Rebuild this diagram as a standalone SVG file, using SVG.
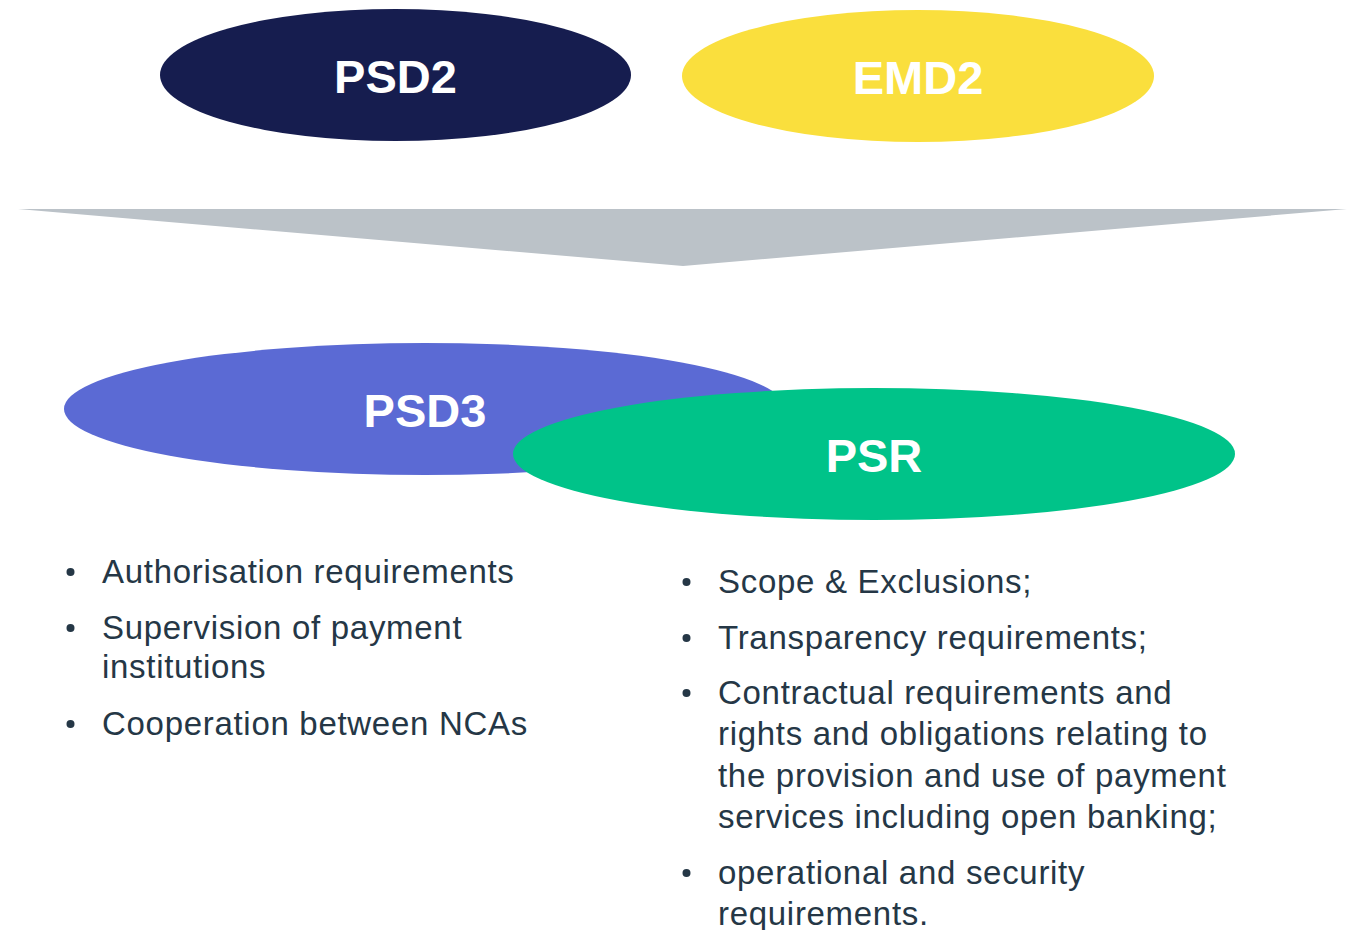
<svg xmlns="http://www.w3.org/2000/svg" width="1353" height="930" viewBox="0 0 1353 930">
  <style>
    .title { font-family: "Liberation Sans", Arial, sans-serif; font-weight: bold; font-size: 47px; fill: #ffffff; text-anchor: middle; }
    .item { font-family: "Liberation Sans", Arial, sans-serif; font-size: 33px; fill: #253746; letter-spacing: 0.7px; }
    .bullet { fill: #253746; }
  </style>
  <rect width="1353" height="930" fill="#ffffff"/>

  <!-- Source directives -->
  <g id="psd2">
    <ellipse cx="395.5" cy="75" rx="235.5" ry="66" fill="#161d4f"/>
    <text class="title" x="395.5" y="93">PSD2</text>
  </g>
  <g id="emd2">
    <ellipse cx="918" cy="76" rx="236" ry="66" fill="#fadf3d"/>
    <text class="title" x="918" y="94">EMD2</text>
  </g>

  <!-- Merge arrow -->
  <g id="connectors">
    <polygon points="18,209 1347,209 683,266" fill="#bbc2c8"/>
  </g>

  <!-- Resulting instruments -->
  <g id="psd3">
    <ellipse cx="425" cy="409" rx="361" ry="66" fill="#5b6ad4"/>
    <text class="title" x="425" y="427">PSD3</text>
  </g>
  <g id="psr">
    <ellipse cx="874" cy="454" rx="361" ry="66" fill="#00c389"/>
    <text class="title" x="874" y="472">PSR</text>
  </g>

  <!-- PSD3 content -->
  <g id="psd3-items">
    <circle class="bullet" cx="70.5" cy="572" r="4"/>
    <text class="item" x="102" y="583">Authorisation requirements</text>
    <circle class="bullet" cx="70.5" cy="628" r="4"/>
    <text class="item" x="102" y="639">Supervision of payment</text>
    <text class="item" x="102" y="678">institutions</text>
    <circle class="bullet" cx="70.5" cy="724" r="4"/>
    <text class="item" x="102" y="735">Cooperation between NCAs</text>
  </g>

  <!-- PSR content -->
  <g id="psr-items">
    <circle class="bullet" cx="686.5" cy="582" r="4"/>
    <text class="item" x="718" y="593">Scope &amp; Exclusions;</text>
    <circle class="bullet" cx="686.5" cy="638" r="4"/>
    <text class="item" x="718" y="649">Transparency requirements;</text>
    <circle class="bullet" cx="686.5" cy="693" r="4"/>
    <text class="item" x="718" y="704">Contractual requirements and</text>
    <text class="item" x="718" y="745">rights and obligations relating to</text>
    <text class="item" x="718" y="787">the provision and use of payment</text>
    <text class="item" x="718" y="828">services including open banking;</text>
    <circle class="bullet" cx="686.5" cy="873" r="4"/>
    <text class="item" x="718" y="884">operational and security</text>
    <text class="item" x="718" y="925">requirements.</text>
  </g>
</svg>
